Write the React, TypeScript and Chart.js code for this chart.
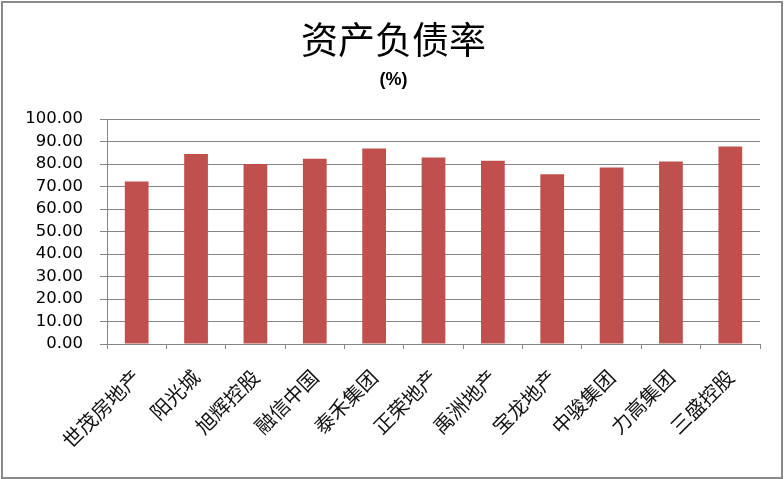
import React, { useEffect, useRef } from "react";
import { Chart, registerables } from "chart.js";

Chart.register(...registerables);

const categories: string[] = [
  "世茂房地产",
  "阳光城",
  "旭辉控股",
  "融信中国",
  "泰禾集团",
  "正荣地产",
  "禹洲地产",
  "宝龙地产",
  "中骏集团",
  "力高集团",
  "三盛控股",
];

const debtRatio: number[] = [72.2, 84.5, 80.0, 82.3, 86.9, 82.9, 81.5, 75.4, 78.5, 81.1, 87.8];

const titleText = "资产负债率";
const subtitleText = "(%)";

const borderPlugin = {
  id: "outerBorder",
  afterDraw(chart: any) {
    const ctx = chart.ctx;
    ctx.save();
    ctx.strokeStyle = "#8a8a8a";
    ctx.lineWidth = 2;
    ctx.strokeRect(2, 2, chart.width - 4, chart.height - 3);
    ctx.restore();
  },
};

export default function App() {
  const ref = useRef<HTMLCanvasElement | null>(null);

  useEffect(() => {
    if (!ref.current) return;
    const chart = new Chart(ref.current, {
      type: "bar",
      data: {
        labels: categories,
        datasets: [
          {
            label: "资产负债率",
            data: debtRatio,
            backgroundColor: "#C0504D",
            borderWidth: 0,
            barPercentage: 0.4,
            categoryPercentage: 1,
          },
        ],
      },
      options: {
        responsive: false,
        animation: false,
        layout: { padding: { left: 27, right: 24, top: 0, bottom: 0 } },
        plugins: {
          legend: { display: false },
          tooltip: { enabled: false },
          title: {
            display: true,
            text: titleText,
            color: "#000",
            font: { family: "'Noto Sans CJK SC'", size: 37, weight: "normal", lineHeight: 1.2 },
            padding: { top: 18, bottom: 0 },
          },
          subtitle: {
            display: true,
            text: subtitleText,
            color: "#000",
            font: { family: "'Liberation Sans'", size: 18, weight: "bold", lineHeight: 1.2 },
            padding: { top: 7, bottom: 28 },
          },
        },
        scales: {
          x: {
            offset: true,
            grid: {
              offset: true,
              drawOnChartArea: false,
              drawTicks: true,
              tickLength: 5,
              color: "#868686",
            },
            border: { display: true, color: "#868686", width: 1 },
            ticks: {
              color: "#111",
              minRotation: 45,
              maxRotation: 45,
              autoSkip: false,
              padding: 16,
              font: { family: "'Noto Sans CJK SC'", size: 20 },
            },
            afterFit: (scale: any) => {
              scale.height = 135;
              scale.paddingLeft = 0;
              scale.paddingRight = 0;
            },
          },
          y: {
            min: 0,
            max: 100,
            grid: { color: "#868686", tickLength: 7, drawTicks: true },
            border: { display: true, color: "#868686", width: 1 },
            ticks: {
              stepSize: 10,
              autoSkip: false,
              color: "#000",
              padding: 17,
              font: { family: "'DejaVu Sans'", size: 16.5 },
              callback: (v: any) => Number(v).toFixed(2),
            },
            afterFit: (scale: any) => {
              scale.width = 80;
              scale.paddingTop = 0;
              scale.paddingBottom = 0;
            },
          },
        },
      },
      plugins: [borderPlugin],
    });
    return () => chart.destroy();
  }, []);

  return (
    <div style={{ position: "absolute", left: 0, top: 0, width: 784, height: 479, background: "#fff" }}>
      <canvas ref={ref} width={784} height={479} style={{ display: "block" }} />
    </div>
  );
}
